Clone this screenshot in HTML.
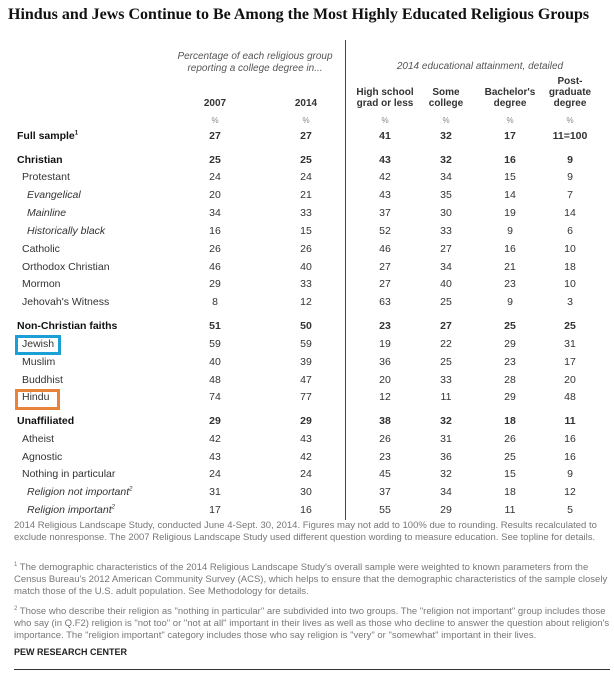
<!DOCTYPE html>
<html><head><meta charset="utf-8"><style>
body{margin:0;width:614px;height:675px;background:#fff;position:relative;overflow:hidden;font-family:"Liberation Sans",sans-serif;color:#222}
.a{position:absolute;white-space:nowrap}
.t{left:8px;top:6px;font-family:"Liberation Serif",serif;font-weight:bold;font-size:16px;color:#111}
.hd{font-style:italic;font-size:10px;color:#555;text-align:center;line-height:12px}
.ch{font-weight:bold;font-size:10px;text-align:center;line-height:11px;color:#333}
.lab{font-size:10.5px;color:#333}
.b{font-weight:bold;color:#111}
.i{font-style:italic}
.n{font-size:10.5px;text-align:center;width:40px;color:#333}
.fn{left:14px;font-size:9.5px;color:#777;line-height:12px;white-space:normal;width:596px}
</style></head><body>
<div class="a t">Hindus and Jews Continue to Be Among the Most Highly Educated Religious Groups</div>
<div class="a" style="left:345px;top:40px;width:1px;height:480px;background:#444"></div>
<div class="a hd" style="left:165px;top:51px;width:180px">Percentage of each religious group<br>reporting a college degree in...</div>
<div class="a hd" style="left:355px;top:61px;width:250px">2014 educational attainment, detailed</div>
<div class="a ch" style="left:190px;top:98px;width:50px">2007</div>
<div class="a ch" style="left:281px;top:98px;width:50px">2014</div>
<div class="a ch" style="left:350px;top:87px;width:70px">High school<br>grad or less</div>
<div class="a ch" style="left:416px;top:87px;width:60px">Some<br>college</div>
<div class="a ch" style="left:475px;top:87px;width:70px">Bachelor's<br>degree</div>
<div class="a ch" style="left:535px;top:76px;width:70px">Post-<br>graduate<br>degree</div>
<div id="rows"></div>
<div class="a" style="left:15px;top:335px;width:40px;height:14px;border:3px solid #1a9fd6"></div>
<div class="a" style="left:15px;top:389px;width:39px;height:15px;border:3px solid #e8833a"></div>
<div class="a fn" style="top:520px">2014 Religious Landscape Study, conducted June 4-Sept. 30, 2014. Figures may not add to 100% due to rounding. Results recalculated to exclude nonresponse. The 2007 Religious Landscape Study used different question wording to measure education. See topline for details.</div>
<div class="a fn" style="top:559px"><sup style="font-size:6px">1</sup> The demographic characteristics of the 2014 Religious Landscape Study's overall sample were weighted to known parameters from the Census Bureau's 2012 American Community Survey (ACS), which helps to ensure that the demographic characteristics of the sample closely match those of the U.S. adult population. See Methodology for details.</div>
<div class="a fn" style="top:603px"><sup style="font-size:6px">2</sup> Those who describe their religion as "nothing in particular" are subdivided into two groups. The "religion not important" group includes those who say (in Q.F2) religion is "not too" or "not at all" important in their lives as well as those who decline to answer the question about religion's importance. The "religion important" category includes those who say religion is "very" or "somewhat" important in their lives.</div>
<div class="a" style="left:14px;top:647px;font-size:9px;font-weight:bold;color:#222">PEW RESEARCH CENTER</div>
<div class="a" style="left:14px;top:669px;width:596px;height:1px;background:#333"></div>
<script>
var pc=[215,306,385,446,510,570];
var h='';pc.forEach(function(p){h+='<div class="a n" style="left:'+(p-20)+'px;top:116px;font-size:8px;color:#888">%</div>'});
var R=[
[137,'Full sample<sup style="font-size:6px">1</sup>','b',17,['27','27','41','32','17','11=100']],
[161,'Christian','b',17,['25','25','43','32','16','9']],
[178,'Protestant','',22,['24','24','42','34','15','9']],
[196,'Evangelical','i',27,['20','21','43','35','14','7']],
[214,'Mainline','i',27,['34','33','37','30','19','14']],
[232,'Historically black','i',27,['16','15','52','33','9','6']],
[250,'Catholic','',22,['26','26','46','27','16','10']],
[268,'Orthodox Christian','',22,['46','40','27','34','21','18']],
[285,'Mormon','',22,['29','33','27','40','23','10']],
[303,"Jehovah's Witness",'',22,['8','12','63','25','9','3']],
[327,'Non-Christian faiths','b',17,['51','50','23','27','25','25']],
[345,'Jewish','',22,['59','59','19','22','29','31']],
[363,'Muslim','',22,['40','39','36','25','23','17']],
[381,'Buddhist','',22,['48','47','20','33','28','20']],
[398,'Hindu','',22,['74','77','12','11','29','48']],
[422,'Unaffiliated','b',17,['29','29','38','32','18','11']],
[440,'Atheist','',22,['42','43','26','31','26','16']],
[458,'Agnostic','',22,['43','42','23','36','25','16']],
[475,'Nothing in particular','',22,['24','24','45','32','15','9']],
[493,'Religion not important<sup style="font-size:6px">2</sup>','i',27,['31','30','37','34','18','12']],
[511,'Religion important<sup style="font-size:6px">2</sup>','i',27,['17','16','55','29','11','5']]];
R.forEach(function(r){var y=r[0]-7;
h+='<div class="a lab '+r[2]+'" style="left:'+r[3]+'px;top:'+y+'px">'+r[1]+'</div>';
r[4].forEach(function(v,k){var w=k==5?60:40;h+='<div class="a n '+(r[2]=='b'?'b':'')+'" style="left:'+(pc[k]-w/2)+'px;width:'+w+'px;top:'+y+'px">'+v+'</div>'})});
document.getElementById('rows').innerHTML=h;
</script>
</body></html>
